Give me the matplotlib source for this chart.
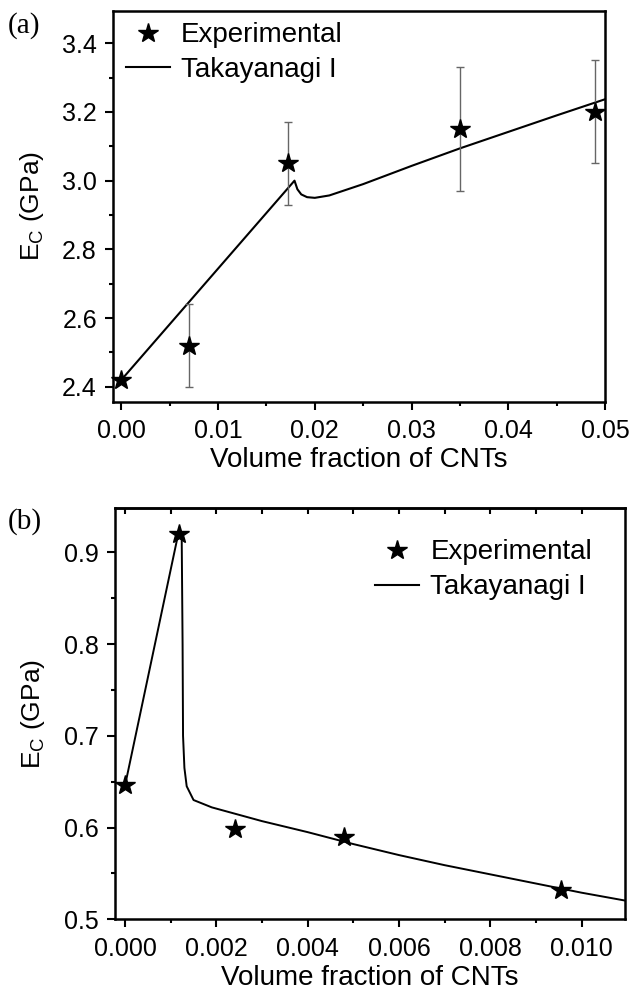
import matplotlib
matplotlib.use('Agg')
import matplotlib.pyplot as plt
from matplotlib.ticker import MultipleLocator, FormatStrFormatter
from matplotlib.lines import Line2D

plt.rcParams['font.family'] = ['Liberation Sans', 'DejaVu Sans']
plt.rcParams['mathtext.fontset'] = 'custom'
plt.rcParams['mathtext.rm'] = 'Liberation Sans'

# (a) experimental points and Takayanagi I curve
a_exp_x = [0.0, 0.007, 0.0172, 0.035, 0.049]
a_exp_y = [2.42, 2.52, 3.05, 3.15, 3.20]
a_err = [0.0, 0.12, 0.122, 0.18, 0.15]
a_fit_x = [0.0, 0.0179, 0.0182, 0.0186, 0.0192, 0.0200, 0.0215, 0.025,
           0.030, 0.035, 0.040, 0.045, 0.050]
a_fit_y = [2.42, 3.00, 2.975, 2.960, 2.952, 2.950, 2.957, 2.990,
           3.043, 3.094, 3.142, 3.190, 3.237]

# (b) experimental points and Takayanagi I curve
b_exp_x = [0.0, 0.00119, 0.0024, 0.0048, 0.00956]
b_exp_y = [0.646, 0.920, 0.598, 0.590, 0.532]
b_fit_x = [0.0, 0.00119, 0.00124, 0.00126, 0.00127, 0.00130, 0.00135,
           0.0015, 0.0019, 0.003, 0.004, 0.005, 0.006, 0.007, 0.008,
           0.009, 0.010, 0.011]
b_fit_y = [0.646, 0.926, 0.920, 0.800, 0.700, 0.665, 0.645,
           0.630, 0.622, 0.607, 0.595, 0.582, 0.570, 0.559, 0.549,
           0.539, 0.529, 0.520]

FS = 18
LFS = 20

fig = plt.figure(figsize=(6.31, 9.92), dpi=100)
ax1 = fig.add_axes([0.179, 0.5948, 0.780, 0.3942])
ax2 = fig.add_axes([0.1823, 0.0733, 0.808, 0.4143])


def style(ax):
    for s in ax.spines.values():
        s.set_linewidth(1.8)
    ax.tick_params(which='both', direction='out', width=1.5, labelsize=FS)
    ax.tick_params(axis='x', pad=7)
    ax.tick_params(axis='y', pad=6)
    ax.tick_params(which='major', length=5.5)
    ax.tick_params(which='minor', length=3)
    ax.set_xlabel('Volume fraction of CNTs', fontsize=LFS, labelpad=3)
    ax.set_ylabel(r'E$\mathregular{_C}$ (GPa)', fontsize=19)


handles = [Line2D([], [], ls='none', marker='*', color='black', ms=15),
           Line2D([], [], color='black', lw=1.5)]
labels = ['Experimental', 'Takayanagi I']

# panel (a)
ax1.plot(a_fit_x, a_fit_y, color='black', lw=1.5)
ax1.errorbar(a_exp_x, a_exp_y, yerr=a_err, fmt='none', ecolor='#666666',
             elinewidth=1, capsize=3)
ax1.plot(a_exp_x, a_exp_y, '*', color='black', ms=15, clip_on=False)
ax1.set_xlim(-0.00086, 0.05)
ax1.set_ylim(2.356, 3.494)
ax1.xaxis.set_major_locator(MultipleLocator(0.01))
ax1.xaxis.set_minor_locator(MultipleLocator(0.005))
ax1.yaxis.set_major_locator(MultipleLocator(0.2))
ax1.yaxis.set_minor_locator(MultipleLocator(0.1))
ax1.xaxis.set_major_formatter(FormatStrFormatter('%.2f'))
ax1.yaxis.set_major_formatter(FormatStrFormatter('%.1f'))
style(ax1)
ax1.yaxis.set_label_coords(-0.137, 0.5)
ax1.legend(handles, labels, loc='upper left', bbox_to_anchor=(-0.025, 1.035),
           frameon=False, fontsize=LFS, handlelength=1.6, handletextpad=0.4,
           labelspacing=0.32)
fig.text(0.012, 0.988, '(a)', family='Liberation Serif', fontsize=21,
         va='top', ha='left')

# panel (b)
ax2.plot(b_fit_x, b_fit_y, color='black', lw=1.4)
ax2.plot(b_exp_x, b_exp_y, '*', color='black', ms=15, clip_on=False)
ax2.set_xlim(-0.00022, 0.01095)
ax2.set_ylim(0.5, 0.948)
ax2.xaxis.set_major_locator(MultipleLocator(0.002))
ax2.xaxis.set_minor_locator(MultipleLocator(0.001))
ax2.yaxis.set_major_locator(MultipleLocator(0.1))
ax2.yaxis.set_minor_locator(MultipleLocator(0.05))
ax2.xaxis.set_major_formatter(FormatStrFormatter('%.3f'))
ax2.yaxis.set_major_formatter(FormatStrFormatter('%.1f'))
style(ax2)
ax2.yaxis.set_label_coords(-0.134, 0.5)
top = ax2.secondary_xaxis('top')
top.xaxis.set_major_locator(MultipleLocator(0.001))
top.tick_params(direction='in', length=4.5, width=1.5, labeltop=False)
top.spines['top'].set_linewidth(1.8)

ax2.legend(handles, labels, loc='upper right', bbox_to_anchor=(0.985, 0.985),
           frameon=False, fontsize=LFS, handlelength=1.6, handletextpad=0.4,
           labelspacing=0.32)
fig.text(0.012, 0.488, '(b)', family='Liberation Serif', fontsize=21,
         va='top', ha='left')

fig.savefig('out.png', dpi=100)
